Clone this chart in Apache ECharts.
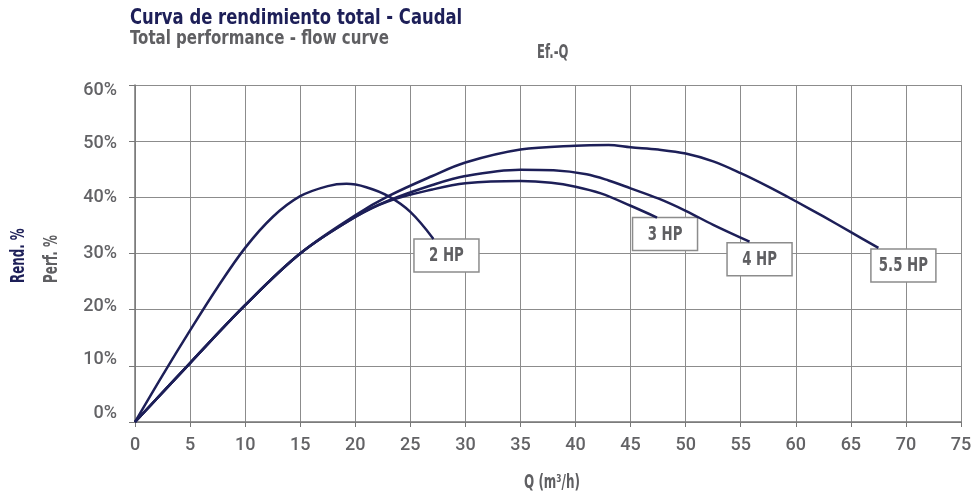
<!DOCTYPE html>
<html>
<head>
<meta charset="utf-8">
<script src="https://cdn.jsdelivr.net/npm/echarts@6/dist/echarts.min.js"></script>
<style>
  html, body { margin: 0; padding: 0; background: #fff; }
  #chart { width: 978px; height: 499px; }
</style>
</head>
<body>
<div id="chart"></div>
<script>
  // caudal Q (m3/h) y rendimiento (%) de cada bomba
  const q2HP = [0, 2.5, 5, 7.5, 10, 12.5, 15, 17.5, 19.2, 21, 23, 25, 27.1];
  const ef2HP = [0, 8.3, 16.3, 24, 31, 36.5, 40.2, 42, 42.4, 41.8, 40.2, 37.4, 32.6];

  const q3HP = [0, 5, 10, 15, 20, 23, 27, 30, 35, 37.8, 40, 42.3, 45, 47.4];
  const ef3HP = [0, 10.5, 20.8, 30, 36.5, 39.3, 41.4, 42.5, 42.9, 42.6, 41.9, 40.7, 38.5, 36.4];

  const q4HP = [0, 5, 10, 15, 20, 23, 27, 30, 35, 38, 41, 43, 45, 47.5, 50, 52.5, 55.8];
  const ef4HP = [0, 10.5, 20.8, 30, 36.5, 39.4, 42.2, 43.8, 44.9, 44.8, 44.1, 43, 41.6, 39.8, 37.6, 35.1, 32.1];

  const q55HP = [0, 5, 10, 15, 20, 23, 27, 30, 35, 40, 43, 45, 47.5, 50, 52.5, 55, 57.5, 60, 62.5, 65, 67.5];
  const ef55HP = [0, 10.5, 20.8, 30, 36.8, 40.2, 43.8, 46.2, 48.5, 49.2, 49.3, 48.9, 48.5, 47.8, 46.4, 44.3, 41.9, 39.3, 36.6, 33.8, 31];

  const seriesNames = ['2 HP', '3 HP', '4 HP', '5.5 HP'];
  const labelShift = [[13, 0], [8, 0], [10, 1], [25, 1]];

  // desplazamiento vertical de las etiquetas del eje Y (como en el original)
  const yTicks = [0, 10, 20, 30, 40, 50, 60];
  const yLabelShift = [-9, -6, -3, 0, 0, 2, 5];

  const navy = '#1d1f58';
  const grey = '#5f5f62';
  const cond = "'DejaVu Sans Condensed', sans-serif";

  const pairs = (xs, ys) => xs.map((x, i) => [x, ys[i]]);
  const curves = [pairs(q2HP, ef2HP), pairs(q3HP, ef3HP), pairs(q4HP, ef4HP), pairs(q55HP, ef55HP)];

  const yRich = {};
  yTicks.forEach((t, i) => {
    const s = yLabelShift[i];
    yRich['p' + t] = {
      fontFamily: 'Roboto', fontSize: 18, fontWeight: 500, color: '#636366',
      padding: s > 0 ? [2 * s, 0, 0, 0] : [0, 0, -2 * s, 0]
    };
  });

  const textEl = (txt, x, y, font, color, sx, rot, align) => ({
    type: 'text', x: x, y: y, scaleX: sx, rotation: rot || 0,
    style: { text: txt, fill: color, font: font, textAlign: align || 'left', textVerticalAlign: rot ? 'middle' : 'top' }
  });

  const chart = echarts.init(document.getElementById('chart'));
  chart.setOption({
    animation: false,
    grid: { left: 135, right: 17, top: 85, bottom: 77 },
    xAxis: {
      type: 'value',
      min: 0,
      max: 75,
      interval: 5,
      axisLine: { show: true, lineStyle: { color: '#777', width: 1.5 } },
      axisTick: { show: true, length: 5, lineStyle: { color: '#777' } },
      axisLabel: { margin: 14, fontFamily: 'Roboto', fontSize: 18, fontWeight: 500, color: '#636366' },
      splitLine: { show: true, lineStyle: { color: '#8c8c8c', width: 1 } }
    },
    yAxis: {
      type: 'value',
      min: 0,
      max: 60,
      interval: 10,
      axisLine: { show: true, lineStyle: { color: '#777', width: 1.5 } },
      axisTick: { show: true, length: 6, lineStyle: { color: '#777' } },
      axisLabel: {
        margin: 18,
        formatter: (v) => '{p' + v + '|' + v + '%}',
        rich: yRich
      },
      splitLine: { show: true, lineStyle: { color: '#8c8c8c', width: 1 } }
    },
    series: curves.map((data, i) => ({
      name: seriesNames[i],
      type: 'line',
      smooth: 0.35,
      showSymbol: false,
      data: data,
      lineStyle: { color: navy, width: 2.5 },
      itemStyle: { color: navy }
    }))
  });

  // cajas con el nombre de cada curva, colgadas del último punto
  const boxes = curves.map((data, i) => {
    const pt = chart.convertToPixel({ seriesIndex: i }, data[data.length - 1]);
    const cx = pt[0] + labelShift[i][0];
    const top = pt[1] + labelShift[i][1];
    return {
      type: 'group',
      children: [
        {
          type: 'rect',
          shape: { x: cx - 32.5, y: top, width: 65, height: 33 },
          style: { fill: '#fff', stroke: '#8c8c8c', lineWidth: 1.5 }
        },
        {
          type: 'text', x: cx, y: top + 17, scaleX: 0.74,
          style: { text: seriesNames[i], fill: grey, font: 'bold 20px ' + cond, textAlign: 'center', textVerticalAlign: 'middle' }
        }
      ]
    };
  });

  chart.setOption({
    graphic: [
      textEl('Curva de rendimiento total - Caudal', 130, 8, 'bold 21px ' + cond, navy, 0.87),
      textEl('Total performance - flow curve', 130, 30, 'bold 19px ' + cond, grey, 0.88),
      textEl('Ef.-Q', 537, 44, 'bold 19px ' + cond, grey, 0.68),
      textEl('Rend. %', 19, 283, 'bold 20px ' + cond, navy, 0.66, Math.PI / 2),
      textEl('Perf. %', 52, 283, 'bold 19px ' + cond, grey, 0.7, Math.PI / 2),
      textEl('Q (m³/h)', 552, 474, 'bold 19px ' + cond, grey, 0.7, 0, 'center')
    ].concat(boxes)
  });
</script>
</body>
</html>
